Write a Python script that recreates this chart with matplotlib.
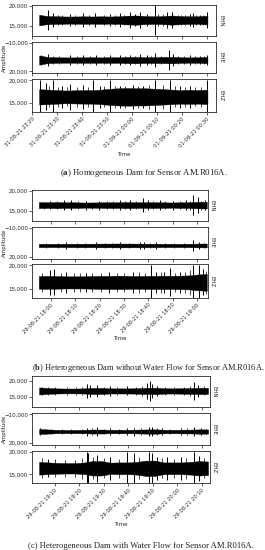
import numpy as np
import matplotlib
matplotlib.use("Agg")
import matplotlib.pyplot as plt
import matplotlib.dates as mdates
from matplotlib.ticker import FixedLocator, StrMethodFormatter

plt.rcParams["mathtext.fontset"] = "custom"
plt.rcParams["mathtext.bf"] = "Liberation Serif:bold"
plt.rcParams["mathtext.rm"] = "Liberation Serif"

W, H = 265, 550
CHANNELS = ["EHN", "EHE", "EHZ"]

# ---- panel (a): homogeneous dam ----
a_start = "2021-08-31T23:22:40"
a_span = 67.5  # minutes of record
a_center = [16400, 8200, 16340]
a_env = [
    [1300, 1000, 950, 900, 900, 950, 900, 950, 900, 950, 1100, 1150, 1000, 950, 1000, 1150, 1000, 950, 950, 1100],
    [4800, 3200, 2900, 2800, 2800, 2900, 2900, 2800, 3000, 2900, 3200, 3300, 3000, 3100, 3200, 3400, 2900, 2800, 2900, 3300],
    [1700, 1600, 1500, 1400, 1450, 1500, 1500, 1600, 1800, 1900, 1950, 1900, 1900, 1800, 1700, 1600, 1500, 1550, 1500, 1600],
]
a_spike_t = [
    [0.9, 3.6, 5.6, 12.3, 17.4, 22.4, 28.4, 32.4, 36.4, 38.4, 40.4, 43.1, 46.5, 51.1, 53.1, 60.5, 61.8, 64.5, 67.2],
    [0.9, 3.6, 12.3, 17.7, 23.0, 28.4, 32.4, 36.4, 40.4, 43.1, 46.5, 52.2, 53.8, 60.5, 64.5, 67.2],
    [0.5, 2.9, 5.6, 9.0, 12.3, 17.7, 21.7, 24.4, 28.4, 32.4, 37.8, 41.8, 46.5, 52.5, 56.5, 60.5, 67.2],
]
a_spike_h = [
    [1300, 2400, 1700, 1400, 1700, 1700, 1500, 1700, 1900, 1600, 1900, 1500, 3800, 1900, 2100, 1500, 1700, 1300, 2000],
    [5200, 6500, 5000, 5000, 5000, 5000, 5000, 5500, 6000, 5000, 7000, 10500, 6000, 5000, 4500, 5000],
    [3800, 3000, 3800, 2500, 2800, 2700, 3800, 2500, 3800, 2500, 2700, 2500, 3800, 3800, 2500, 2500, 3800],
]
a_minor_t = [
    [7.5, 9.0, 14.5, 19.8, 26.0, 30.5, 34.0, 47.8, 49.5, 55.5, 57.0, 58.5, 63.0, 65.8],
    [5.5, 8.0, 15.0, 20.5, 26.0, 34.5, 38.5, 45.0, 49.0, 55.5, 58.0, 62.5, 66.0],
    [4.0, 7.5, 11.0, 15.0, 19.5, 26.0, 30.5, 34.5, 39.8, 44.0, 49.5, 54.5, 58.5, 62.5, 65.0],
]
a_minor_h = [
    [1300, 1250, 1200, 1300, 1250, 1300, 1350, 1400, 1450, 1300, 1350, 1250, 1300, 1350],
    [4000, 3800, 4000, 4100, 3900, 4100, 4300, 4500, 4500, 4200, 3900, 4000, 4200],
    [2300, 2200, 2100, 2200, 2200, 2300, 2400, 2400, 2500, 2600, 2600, 2300, 2200, 2100, 2200],
]

# ---- panel (b): heterogeneous dam, no water flow ----
b_start = "2021-08-29T17:55:00"
b_span = 69.0
b_center = [16400, 8200, 16340]
b_env = [
    [750, 700, 750, 700, 700, 650, 650, 700, 700, 700, 750, 700, 700, 700, 700, 650, 700, 700, 800, 850],
    [1700, 1650, 1700, 1700, 1750, 1800, 1800, 1900, 1900, 2000, 1900, 1900, 1800, 1800, 1700, 1700, 1700, 1750, 1900, 2000],
    [1350, 1400, 1350, 1300, 1300, 1300, 1350, 1400, 1400, 1450, 1400, 1350, 1400, 1400, 1450, 1400, 1450, 1500, 1700, 1800],
]
b_spike_t = [
    [4.4, 10.5, 13.3, 19.5, 24.9, 33.2, 37.3, 42.7, 44.8, 49.6, 55.1, 60.5, 63.3, 65.3, 68.1],
    [11.2, 23.6, 33.2, 41.4, 43.4, 48.2, 63.3, 66.0],
    [4.4, 6.4, 11.2, 19.5, 29.0, 38.6, 46.2, 48.2, 51.6, 53.7, 57.8, 63.3, 66.0, 67.4],
]
b_spike_h = [
    [1000, 1300, 1200, 1100, 1100, 1300, 1200, 1700, 1300, 1200, 1100, 1200, 2500, 2000, 1300],
    [3500, 3300, 3300, 3500, 4000, 3300, 5500, 4000],
    [2700, 2800, 2300, 2000, 2200, 2200, 3800, 2300, 2300, 3000, 2200, 3800, 3800, 2800],
]
b_minor_t = [
    [2.0, 7.5, 16.0, 22.0, 28.0, 30.5, 35.5, 40.0, 47.0, 52.0, 58.0, 62.0, 66.8],
    [3.0, 8.0, 15.5, 19.0, 27.0, 30.0, 37.0, 45.5, 52.0, 55.5, 59.5, 68.0],
    [1.5, 9.0, 14.5, 17.0, 22.0, 25.5, 32.0, 35.0, 41.0, 43.5, 50.0, 56.0, 60.0, 62.0, 68.5],
]
b_minor_h = [
    [900, 950, 950, 900, 950, 950, 1000, 1050, 950, 950, 950, 1100, 1100],
    [2500, 2600, 2700, 2700, 2800, 2800, 2900, 3000, 2800, 2700, 2700, 3000],
    [2000, 2100, 2000, 2000, 2100, 2000, 2100, 2100, 2200, 2100, 2200, 2100, 2200, 2600, 2500],
]

# ---- panel (c): heterogeneous dam, with water flow ----
c_start = "2021-08-29T19:03:30"
c_span = 69.0
c_center = [16800, 8200, 16330]
c_env = [
    [1100, 900, 800, 750, 750, 800, 950, 950, 800, 800, 800, 850, 950, 1000, 850, 800, 850, 900, 1000, 950],
    [2600, 2200, 1800, 1700, 1700, 1800, 2100, 2100, 1800, 1900, 1800, 2000, 2200, 2300, 1900, 1800, 1900, 2000, 2300, 2200],
    [1400, 1300, 1200, 1150, 1150, 1250, 1600, 1600, 1250, 1300, 1300, 1400, 1700, 1700, 1300, 1300, 1300, 1400, 1600, 1500],
]
c_spike_t = [
    [1.0, 19.5, 20.8, 23.6, 29.0, 35.9, 44.1, 45.2, 46.2, 48.2, 63.3, 64.7],
    [0.3, 2.3, 19.5, 23.6, 29.0, 35.9, 38.6, 44.8, 46.2, 50.3, 57.8, 63.3, 66.0],
    [3.7, 19.5, 20.1, 23.6, 29.0, 35.9, 38.6, 44.8, 46.2, 48.2, 52.3, 57.8, 63.3, 65.3],
]
c_spike_h = [
    [1300, 2300, 1800, 2000, 1500, 1400, 2500, 3100, 2200, 1600, 2800, 1800],
    [3500, 3000, 4200, 4500, 3500, 3300, 4200, 5000, 4500, 3500, 3300, 5000, 4000],
    [2000, 3600, 3300, 3000, 2500, 3600, 3300, 3600, 3300, 2500, 2500, 2500, 3600, 2800],
]
c_minor_t = [
    [3.5, 6.5, 11.5, 15.0, 17.5, 26.5, 32.0, 39.5, 42.0, 51.5, 55.0, 59.0, 61.5, 67.5],
    [5.0, 9.5, 13.0, 17.5, 21.5, 26.5, 32.5, 41.5, 48.0, 53.5, 60.5, 68.0],
    [1.0, 6.5, 10.5, 14.5, 17.5, 22.0, 26.5, 32.5, 41.0, 50.0, 55.0, 60.0, 67.5],
]
c_minor_h = [
    [1300, 1200, 1150, 1200, 1300, 1300, 1200, 1300, 1500, 1300, 1250, 1300, 1500, 1400],
    [2800, 2700, 2700, 3000, 3300, 3000, 2800, 3200, 3300, 3000, 3200, 3000],
    [2200, 2000, 1900, 1900, 2300, 2400, 2200, 2100, 2400, 2200, 2100, 2300, 2200],
]

# axis limits and ticks (second channel drawn on an inverted axis)
y_lims = {
    "a": [(12500, 20170), (22100, -11050), (12930, 20220)],
    "b": [(12500, 20175), (22100, -11050), (12930, 20220)],
    "c": [(11700, 21560), (22430, -11056), (13010, 20155)],
}
y_ticks = [[15000, 20000], [-10000, 20000], [15000, 20000]]
x_lims = {
    "a": ("2021-08-31T23:19:48", "2021-09-01T00:33:36"),
    "b": ("2021-08-29T17:52:12", "2021-08-29T19:04:30"),
    "c": ("2021-08-29T19:00:36", "2021-08-29T20:13:18"),
}
captions = {
    "a": r"($\mathbf{a}$) Homogeneous Dam for Sensor AM.R016A.",
    "b": r"($\mathbf{b}$) Heterogeneous Dam without Water Flow for Sensor AM.R016A.",
    "c": r"(c) Heterogeneous Dam with Water Flow for Sensor AM.R016A.",
}
caption_size = {"a": 6.3, "b": 6.0, "c": 6.25}

# pixel layout: x-left, x-right, [(top, bottom) per channel], xlabel y, caption (x, y)
layout = {
    "a": (32, 216, [(5, 35.7), (41.7, 73.3), (79.3, 112.3)], 154, (144, 173)),
    "b": (32, 208, [(190, 220.7), (226.7, 259), (264.3, 298.3)], 339, (148, 368)),
    "c": (32, 210, [(375.7, 407.3), (413.3, 445), (451, 483.3)], 525, (141, 546.5)),
}

panels = {
    "a": (a_start, a_span, a_center, a_env, a_spike_t, a_spike_h, a_minor_t, a_minor_h),
    "b": (b_start, b_span, b_center, b_env, b_spike_t, b_spike_h, b_minor_t, b_minor_h),
    "c": (c_start, c_span, c_center, c_env, c_spike_t, c_spike_h, c_minor_t, c_minor_h),
}

GREY = "#262626"


def to_time(start, minutes):
    return np.datetime64(start) + (np.asarray(minutes) * 60).astype("timedelta64[s]")


fig = plt.figure(figsize=(W / 100, H / 100), dpi=100)

for key, (start, span, center, env, sp_t, sp_h, mn_t, mn_h) in panels.items():
    x0, x1, rows, xlab_y, cap = layout[key]
    for i, (top, bot) in enumerate(rows):
        ax = fig.add_axes([x0 / W, 1 - bot / H, (x1 - x0) / W, (bot - top) / H])
        t_env = to_time(start, np.linspace(0, span, len(env[i])))
        e = np.array(env[i])
        ax.fill_between(t_env, center[i] - e, center[i] + e, color="black", lw=0.3)
        h = np.array(mn_h[i])
        ax.vlines(to_time(start, mn_t[i]), center[i] - h, center[i] + h,
                  color="black", lw=0.5)
        h = np.array(sp_h[i])
        ax.vlines(to_time(start, sp_t[i]), center[i] - h, center[i] + h,
                  color="black", lw=0.7)
        ax.set_ylim(*y_lims[key][i])
        ax.set_xlim(np.datetime64(x_lims[key][0]), np.datetime64(x_lims[key][1]))
        ax.yaxis.set_major_locator(FixedLocator(y_ticks[i]))
        ax.yaxis.set_major_formatter(StrMethodFormatter("{x:,.0f}"))
        ax.xaxis.set_major_locator(mdates.MinuteLocator(byminute=range(0, 60, 10)))
        ax.xaxis.set_major_formatter(mdates.DateFormatter("%d-%m-%y %H:%M"))
        ax.tick_params(axis="both", length=2, width=0.5, pad=1, colors=GREY,
                       labelsize=4)
        ax.tick_params(axis="x", labelsize=3.7)
        for s in ax.spines.values():
            s.set_linewidth(0.6)
            s.set_color(GREY)
        if i < 2:
            ax.tick_params(axis="x", labelbottom=False)
        else:
            plt.setp(ax.get_xticklabels(), rotation=45, ha="right",
                     rotation_mode="anchor")
        ax.text(1.025, 0.5, CHANNELS[i], transform=ax.transAxes, rotation=-90,
                ha="center", va="center", fontsize=4, color=GREY)
    # shared labels
    ymid = (rows[1][0] + rows[1][1]) / 2
    fig.text(4 / W, 1 - ymid / H, "Amplitude", rotation=90, ha="center",
             va="center", fontsize=4, color=GREY)
    fig.text((x0 + x1) / 2 / W, 1 - xlab_y / H, "Time", ha="center",
             va="center", fontsize=4, color=GREY)
    fig.text(cap[0] / W, 1 - cap[1] / H, captions[key], ha="center",
             va="center", fontsize=caption_size[key], family="Liberation Serif",
             color="#222222")

fig.savefig("out.png", dpi=100)
